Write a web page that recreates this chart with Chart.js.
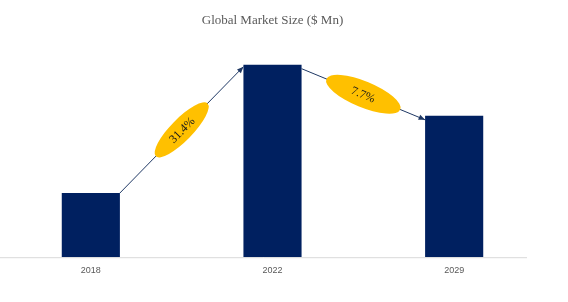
<!DOCTYPE html>
<html lang="en">
  <head>
    <meta charset="UTF-8" />
    <title>Global Market Size</title>
    <script src="https://cdn.jsdelivr.net/npm/chart.js"></script>
    <style>
      html, body { margin: 0; padding: 0; background: #fff; }
      #wrap { width: 568px; height: 302px; }
    </style>
  </head>
  <body>
    <div id="wrap"><canvas id="marketChart"></canvas></div>
    <script>
      // values
      var years = ["2018", "2022", "2029"];
      var marketSize = [64, 192, 141];
      var growthLabels = ["31.4%", "7.7%"];

      var navy = "#002060";

      // draws the x axis line, the arrows between bar tops and the yellow CAGR ellipses
      var growthArrows = {
        id: "growthArrows",
        afterDatasetsDraw: function (chart) {
          var ctx = chart.ctx;
          var bars = chart.getDatasetMeta(0).data;
          var area = chart.chartArea;

          ctx.save();
          ctx.strokeStyle = "#d9d9d9";
          ctx.lineWidth = 1;
          ctx.beginPath();
          ctx.moveTo(area.left, area.bottom + 0.5);
          ctx.lineTo(area.left + 527, area.bottom + 0.5);
          ctx.stroke();

          for (var i = 0; i < bars.length - 1; i++) {
            var a = bars[i], b = bars[i + 1];
            var x1 = a.x + a.width / 2, y1 = a.y + (i === 0 ? 0 : 4);
            var x2 = b.x - b.width / 2, y2 = b.y + (i === 0 ? 2 : 4);
            var ang = Math.atan2(y2 - y1, x2 - x1);

            ctx.strokeStyle = "#1f3864";
            ctx.fillStyle = "#1f3864";
            ctx.lineWidth = 1;
            ctx.beginPath();
            ctx.moveTo(x1, y1);
            ctx.lineTo(x2, y2);
            ctx.stroke();
            ctx.beginPath();
            ctx.moveTo(x2, y2);
            ctx.lineTo(x2 - 7 * Math.cos(ang - 0.4), y2 - 7 * Math.sin(ang - 0.4));
            ctx.lineTo(x2 - 7 * Math.cos(ang + 0.4), y2 - 7 * Math.sin(ang + 0.4));
            ctx.closePath();
            ctx.fill();

            var cx = (x1 + x2) / 2, cy = (y1 + y2) / 2;
            var rx = i === 0 ? 37 : 40, ry = i === 0 ? 11 : 13;
            ctx.save();
            ctx.translate(cx, cy);
            ctx.rotate(ang);
            ctx.fillStyle = "#ffc000";
            ctx.beginPath();
            ctx.ellipse(0, 0, rx, ry, 0, 0, Math.PI * 2);
            ctx.fill();
            ctx.fillStyle = "#1a1a1a";
            ctx.font = "12px 'Liberation Serif', 'DejaVu Serif', serif";
            ctx.textAlign = "center";
            ctx.textBaseline = "middle";
            ctx.fillText(growthLabels[i], 0, 1);
            ctx.restore();
          }
          ctx.restore();
        },
      };

      var ctx = document.getElementById("marketChart").getContext("2d");
      var marketChart = new Chart(ctx, {
        type: "bar",
        data: {
          labels: years,
          datasets: [
            {
              label: "Market Size",
              data: marketSize,
              backgroundColor: navy,
              categoryPercentage: 1,
              barPercentage: 0.32,
            },
          ],
        },
        options: {
          responsive: true,
          maintainAspectRatio: false,
          animation: false,
          layout: { padding: { left: 0, right: 23, top: 0, bottom: 26 } },
          plugins: {
            legend: { display: false },
            tooltip: { enabled: false },
            title: {
              display: true,
              text: "Global Market Size ($ Mn)",
              color: "#595959",
              font: { family: "'Liberation Serif', 'DejaVu Serif', serif", size: 13, weight: "normal" },
              padding: { top: 13, bottom: 8 },
            },
          },
          scales: {
            x: {
              grid: { display: false },
              border: { display: false },
              ticks: {
                color: "#595959",
                font: { family: "'Liberation Sans', Arial, sans-serif", size: 9 },
                padding: 0,
              },
            },
            y: {
              display: false,
              min: 0,
              max: 220,
            },
          },
        },
        plugins: [growthArrows],
      });
    </script>
  </body>
</html>
